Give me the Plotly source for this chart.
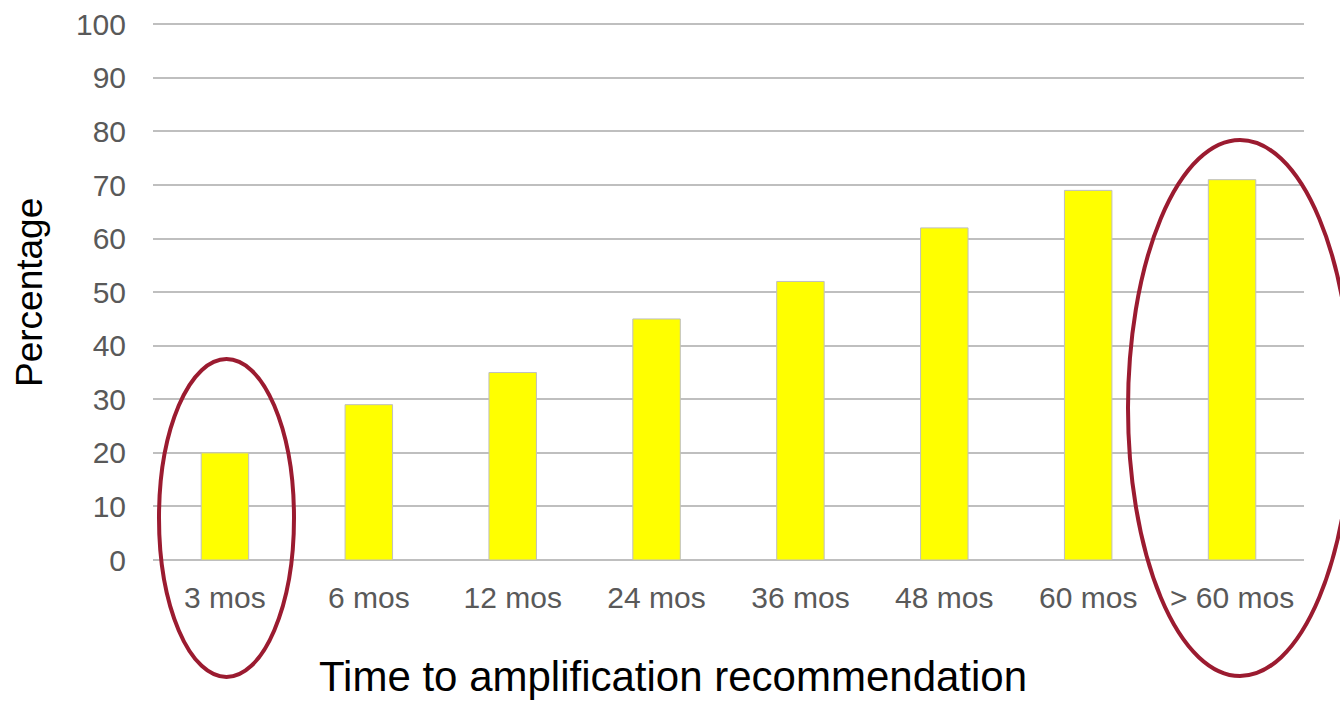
import plotly.graph_objects as go

# Share of patients by time to amplification recommendation
categories = ["3 mos", "6 mos", "12 mos", "24 mos", "36 mos", "48 mos", "60 mos", "> 60 mos"]
percentages = [20, 29, 35, 45, 52, 62, 69, 71]
y_ticks = list(range(0, 101, 10))
y_top = 100.25  # a little headroom so the 100 gridline is kept

W, H = 1340, 701
L, R, T, B = 153, 36, 23, 141
plot_w, plot_h = W - L - R, H - T - B


def px_to_paper(x, y):
    """Convert page pixel positions into paper coordinates of the plot area."""
    return (x - L) / plot_w, (H - B - y) / plot_h


fig = go.Figure(
    go.Bar(
        x=categories,
        y=percentages,
        width=0.33,
        marker=dict(color="#FFFF00", line=dict(color="#BFBFBF", width=1)),
        hoverinfo="x+y",
    )
)

# Highlight rings around the first and last categories
highlight = "#9B1B30"
rings = [((159, 359), (294, 677)), ((1128, 140), (1352, 676))]
shapes = []
for (x0, y0), (x1, y1) in rings:
    px0, py1 = px_to_paper(x0, y0)
    px1, py0 = px_to_paper(x1, y1)
    shapes.append(dict(
        type="circle", xref="paper", yref="paper",
        x0=px0, x1=px1, y0=py0, y1=py1,
        line=dict(color=highlight, width=4), layer="above",
    ))

# Axis titles
xt_x, xt_y = px_to_paper(673, 676)
yt_x, yt_y = px_to_paper(29, 293)
annotations = [
    dict(
        text="Time to amplification recommendation",
        xref="paper", yref="paper", x=xt_x, y=xt_y,
        xanchor="center", yanchor="middle", showarrow=False,
        font=dict(size=42, color="#000000"),
    ),
    dict(
        text="Percentage", textangle=-90,
        xref="paper", yref="paper", x=yt_x, y=yt_y,
        xanchor="center", yanchor="middle", showarrow=False,
        font=dict(size=37, color="#000000"),
    ),
]

fig.update_layout(
    width=W, height=H,
    margin=dict(l=L, r=R, t=T, b=B, pad=0, autoexpand=False),
    paper_bgcolor="white", plot_bgcolor="white",
    font=dict(family="Liberation Sans, Arial, sans-serif", color="#595959"),
    showlegend=False,
    shapes=shapes,
    annotations=annotations,
    xaxis=dict(
        type="category", automargin=False,
        showgrid=False, showline=False, ticks="",
        tickfont=dict(size=30, color="#595959"),
        ticklabelstandoff=17,
    ),
    yaxis=dict(
        range=[0, y_top], automargin=False,
        tickvals=y_ticks,
        showgrid=True, gridcolor="#BFBFBF", gridwidth=1.5,
        zeroline=True, zerolinecolor="#BFBFBF", zerolinewidth=1.5,
        showline=False, ticks="",
        tickfont=dict(size=30, color="#595959"),
        ticklabelstandoff=26,
    ),
)

fig.write_html("out.html")
